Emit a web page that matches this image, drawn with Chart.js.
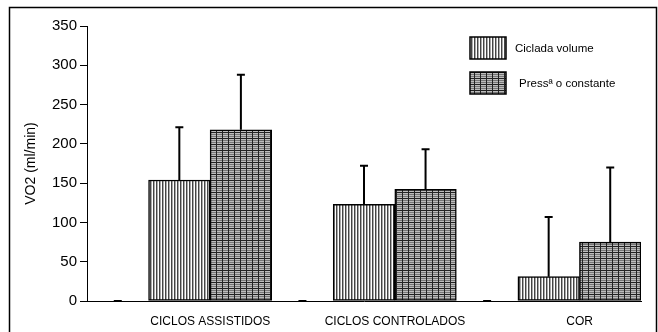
<!DOCTYPE html>
<html>
<head>
<meta charset="utf-8">
<script src="https://cdn.jsdelivr.net/npm/chart.js@4/dist/chart.umd.min.js"></script>
<style>
  html, body { margin: 0; padding: 0; background: #fff; }
  #wrap { width: 658px; height: 332px; }
</style>
</head>
<body>
<div id="wrap"><canvas id="vo2Chart" width="658" height="332"></canvas></div>
<script>
// values (VO2 in ml/min)
const categories = ['CICLOS ASSISTIDOS', 'CICLOS CONTROLADOS', 'COR'];
const baseline = [0, 0, 0];          // empty first series, only its cap shows
const baselineErr = [0, 0, 0];
const cicladaVolume = [154, 123, 31];
const cicladaErr = [67, 49, 76];
const pressaoConstante = [218, 142, 75];
const pressaoErr = [70, 51, 95];
const yTicks = [0, 50, 100, 150, 200, 250, 300, 350];

Chart.defaults.font.family = 'Arial, "Liberation Sans", sans-serif';
Chart.defaults.color = '#000';

// fill patterns like the old hatch fills
function makePattern(kind) {
    const c = document.createElement('canvas');
    const g = c.getContext('2d');
    if (kind === 'vertical') {
        c.width = 3; c.height = 3;
        g.fillStyle = '#fff';
        g.fillRect(0, 0, 3, 3);
        g.fillStyle = '#444';
        g.fillRect(0, 0, 1, 3);
        g.fillStyle = '#aaa';
        g.fillRect(1, 0, 1, 3);
    } else {
        c.width = 6; c.height = 6;
        g.fillStyle = '#777';
        g.fillRect(0, 0, 6, 6);
        g.fillStyle = '#bdbdbd';
        g.fillRect(0, 1, 6, 1);
        g.fillRect(0, 3, 6, 1);
        g.fillRect(0, 5, 6, 1);
        g.fillStyle = '#222';
        g.fillRect(0, 0, 6, 1);
        g.fillRect(0, 0, 1, 6);
    }
    return g.createPattern(c, 'repeat');
}

const hatchVertical = makePattern('vertical');
const hatchGrid = makePattern('grid');

// outer frame around the whole figure
const framePlugin = {
    id: 'frame',
    beforeDraw(chart) {
        const ctx = chart.ctx;
        ctx.save();
        ctx.strokeStyle = '#000';
        ctx.lineWidth = 1.5;
        ctx.strokeRect(9.5, 7.5, 647, 340);
        ctx.restore();
    }
};

// upper error bars with caps
const errorBarPlugin = {
    id: 'errorBars',
    afterDatasetsDraw(chart) {
        const ctx = chart.ctx;
        const yScale = chart.scales.y;
        ctx.save();
        ctx.strokeStyle = '#000';
        ctx.lineWidth = 2;
        chart.data.datasets.forEach((ds, di) => {
            const meta = chart.getDatasetMeta(di);
            meta.data.forEach((bar, i) => {
                const top = yScale.getPixelForValue(ds.data[i] + ds.errors[i]);
                ctx.beginPath();
                if (ds.errors[i] > 0) {
                    ctx.moveTo(bar.x, bar.y);
                    ctx.lineTo(bar.x, top);
                }
                ctx.moveTo(bar.x - 4, top);
                ctx.lineTo(bar.x + 4, top);
                ctx.stroke();
            });
        });
        ctx.restore();
    }
};

// legend boxes drawn inside the plot, upper right
const boxLegendPlugin = {
    id: 'boxLegend',
    afterDraw(chart) {
        const ctx = chart.ctx;
        const items = [
            { ds: chart.data.datasets[1], y: 37, tx: 515 },
            { ds: chart.data.datasets[2], y: 72, tx: 519 }
        ];
        ctx.save();
        items.forEach(it => {
            ctx.fillStyle = it.ds.backgroundColor;
            ctx.fillRect(470, it.y, 36, 22);
            ctx.strokeStyle = '#000';
            ctx.lineWidth = 1.5;
            ctx.strokeRect(470, it.y, 36, 22);
            ctx.fillStyle = '#000';
            ctx.font = '11.5px Arial, "Liberation Sans", sans-serif';
            ctx.textBaseline = 'middle';
            ctx.fillText(it.ds.label, it.tx, it.y + 12);
        });
        ctx.restore();
    }
};

new Chart(document.getElementById('vo2Chart'), {
    type: 'bar',
    data: {
        labels: categories,
        datasets: [
            {
                label: '',
                data: baseline,
                errors: baselineErr,
                backgroundColor: 'rgba(0,0,0,0)',
                borderWidth: 0
            },
            {
                label: 'Ciclada volume',
                data: cicladaVolume,
                errors: cicladaErr,
                backgroundColor: hatchVertical,
                borderColor: '#000',
                borderWidth: 1.5,
                borderSkipped: false
            },
            {
                label: 'Pressª o constante',
                data: pressaoConstante,
                errors: pressaoErr,
                backgroundColor: hatchGrid,
                borderColor: '#000',
                borderWidth: 1.5,
                borderSkipped: false
            }
        ]
    },
    options: {
        responsive: false,
        animation: false,
        layout: { padding: { top: 26, right: 17, left: 0, bottom: 0 } },
        datasets: {
            bar: { categoryPercentage: 1, barPercentage: 1 }
        },
        plugins: {
            legend: { display: false },
            tooltip: { enabled: false }
        },
        scales: {
            x: {
                offset: true,
                grid: { display: true, drawOnChartArea: false, drawTicks: false },
                border: { display: true, color: '#000', width: 1 },
                ticks: {
                    font: { size: 12 },
                    padding: 13,
                    labelOffset: 31,
                    maxRotation: 0,
                    autoSkip: false
                },
                afterFit(scale) { scale.height = 31; }
            },
            y: {
                min: 0,
                max: 350,
                afterBuildTicks(scale) {
                    scale.ticks = yTicks.map(v => ({ value: v }));
                },
                grid: {
                    drawOnChartArea: false,
                    drawTicks: true,
                    tickLength: 7,
                    color: '#000'
                },
                border: { display: true, color: '#000', width: 1 },
                ticks: { font: { size: 15 }, padding: 3 },
                title: {
                    display: true,
                    text: 'VO2 (ml/min)',
                    font: { size: 14 },
                    padding: { top: 23, bottom: 0 }
                },
                afterFit(scale) { scale.width = 87; }
            }
        }
    },
    plugins: [framePlugin, errorBarPlugin, boxLegendPlugin]
});
</script>
</body>
</html>
